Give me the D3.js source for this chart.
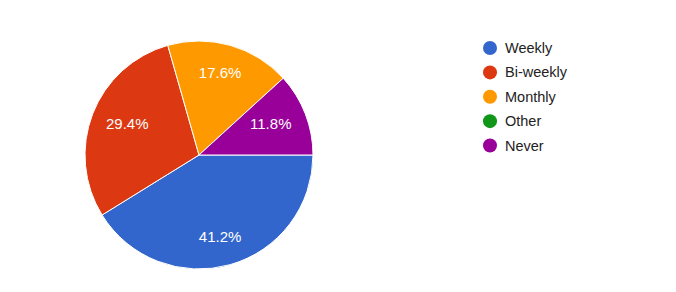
<!DOCTYPE html>
<html>
<head>
<meta charset="utf-8">
<script src="https://cdn.jsdelivr.net/npm/d3@7"></script>
<style>
  body { margin: 0; background: #fff; }
  text { font-family: "Liberation Sans", Arial, sans-serif; }
</style>
</head>
<body>
<svg id="chart" width="676" height="292"></svg>
<script>
// answers (counts) in the form's order
var categories = ['Weekly', 'Bi-weekly', 'Monthly', 'Other', 'Never'];
var counts = [7, 5, 3, 0, 2];
var colors = ['#3366cc', '#dc3912', '#ff9900', '#109618', '#990099'];

var svg = d3.select('#chart');
var cx = 199, cy = 155, r = 114;

var total = d3.sum(counts);
var pie = d3.pie()
    .sort(null)
    .startAngle(Math.PI / 2)
    .endAngle(Math.PI / 2 + 2 * Math.PI)
    .value(function(d) { return d; });

var arc = d3.arc().innerRadius(0).outerRadius(r);

// labels sit a bit closer in on the sides than top/bottom (text box width)
function labelPos(d) {
    var a = (d.startAngle + d.endAngle) / 2;
    return [Math.sin(a) * r * 0.675, -Math.cos(a) * r * 0.75];
}

var g = svg.append('g').attr('transform', 'translate(' + cx + ',' + cy + ')');
var slices = pie(counts).filter(function(d) { return d.value > 0; });

g.selectAll('path')
    .data(slices)
    .enter().append('path')
    .attr('d', arc)
    .attr('fill', function(d) { return colors[d.index]; })
    .attr('stroke', '#fff')
    .attr('stroke-width', 1);

g.selectAll('text.pct')
    .data(slices)
    .enter().append('text')
    .attr('class', 'pct')
    .attr('transform', function(d) { return 'translate(' + labelPos(d) + ')'; })
    .attr('text-anchor', 'middle')
    .attr('dy', '0.35em')
    .style('fill', '#fff')
    .style('font-size', '15px')
    .text(function(d) { return (d.value / total * 100).toFixed(1) + '%'; });

// legend
var legend = svg.append('g').attr('transform', 'translate(490,48)');
var row = d3.scalePoint().domain(categories).range([0, 97.5]);

var item = legend.selectAll('g')
    .data(categories)
    .enter().append('g')
    .attr('transform', function(d) { return 'translate(0,' + row(d) + ')'; });

item.append('circle')
    .attr('r', 7)
    .attr('fill', function(d, i) { return colors[i]; });

item.append('text')
    .attr('x', 15)
    .attr('dy', '0.35em')
    .style('fill', '#222')
    .style('font-size', '14.5px')
    .text(function(d) { return d; });
</script>
</body>
</html>
